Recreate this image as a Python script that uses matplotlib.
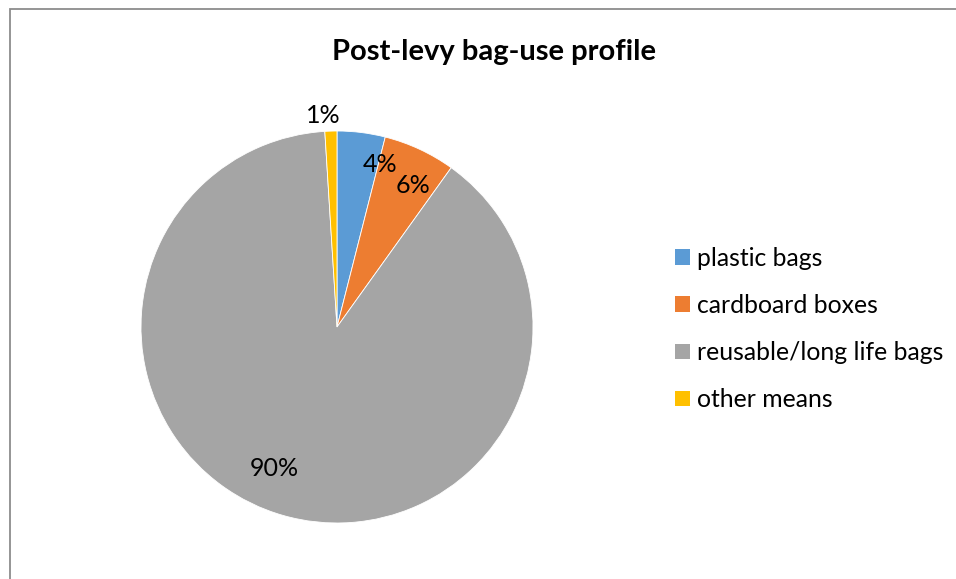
import matplotlib
matplotlib.use("Agg")
import matplotlib.pyplot as plt
from matplotlib.patches import Patch, Rectangle

plt.rcParams['font.family'] = ['Lato', 'DejaVu Sans']

# data
categories = ['plastic bags', 'cardboard boxes', 'reusable/long life bags', 'other means']
shares = [4, 6, 90, 1]
colors = ['#5B9BD5', '#ED7D31', '#A5A5A5', '#FFC000']

# label spots (fraction of radius), roughly where Excel put them
label_pos = [(0.22, 0.83), (0.39, 0.72), (-0.32, -0.72), (-0.07, 1.08)]

fig = plt.figure(figsize=(9.56, 5.79), dpi=100)

# chart area border (only top and left visible in crop)
fig.patches.append(Rectangle((9.5 / 956, -0.1), 1.2, 1 - 8.5 / 579 + 0.1,
                             transform=fig.transFigure, fill=False,
                             edgecolor='#8c8c8c', linewidth=1.3))

cx, cy, r = 337, 327, 196
ax = fig.add_axes([(cx - r) / 956, (579 - cy - r) / 579, 2 * r / 956, 2 * r / 579])
wedges, texts = ax.pie(shares, colors=colors, startangle=90, counterclock=False, radius=1,
                       wedgeprops=dict(edgecolor='white', linewidth=0.6))
for v, p in zip(shares, label_pos):
    ax.text(p[0], p[1], f'{v}%', ha='center', va='center', fontsize=18)
ax.set_xlim(-1, 1)
ax.set_ylim(-1, 1)
ax.axis('off')

fig.text(494 / 956, 1 - 52 / 579, 'Post-levy bag-use profile', ha='center', va='center',
         fontsize=21, fontweight='bold')

handles = [Patch(facecolor=c, edgecolor='none') for c in colors]
fig.legend(handles, categories, loc='center left', bbox_to_anchor=(675 / 956, 1 - 329 / 579),
           frameon=False, fontsize=17.8, handlelength=0.6, handleheight=0.6,
           handletextpad=0.3, labelspacing=0.98, borderpad=0, borderaxespad=0)

fig.savefig('out.png', dpi=100)
